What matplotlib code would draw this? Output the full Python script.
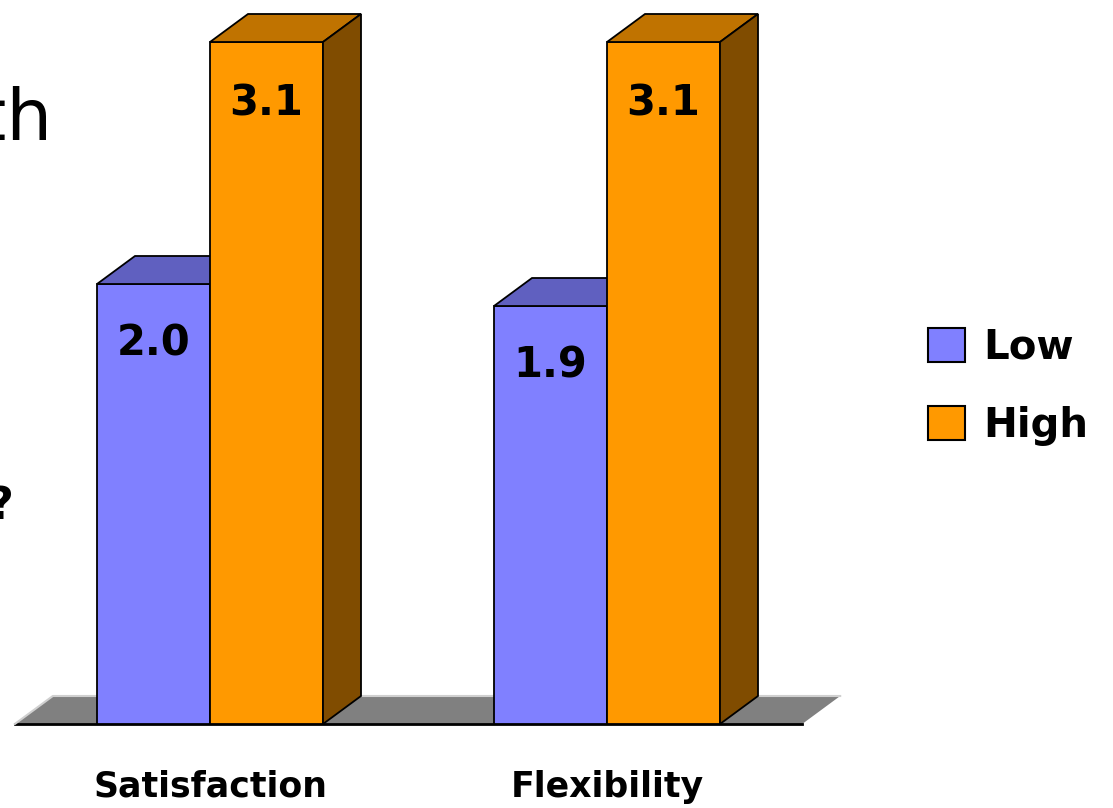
import numpy as np
import matplotlib
matplotlib.use('Agg')
import matplotlib.pyplot as plt
from matplotlib.patches import Polygon, Patch

# data
categories = ['Satisfaction', 'Flexibility']
series = ['Low', 'High']
low = [2.0, 1.9]
high = [3.1, 3.1]

# colours: front, top, side
cols = {
    'Low': ('#8080FF', '#6060C0', '#404080'),
    'High': ('#FF9900', '#C07300', '#804C00'),
}

W, H = 1113, 808
fig = plt.figure(figsize=(W / 100, H / 100), dpi=100)
ax = fig.add_axes([0, 0, 1, 1])
ax.set_xlim(-210 / 397, 903 / 397)
ax.set_ylim(-84 / 220, 724 / 220)
ax.axis('off')

w = 113 / 397      # bar width (group units)
dx = 38 / 397      # depth offset x
dy = 28 / 220      # depth offset y (value units)

def box(x0, x1, v, c):
    front, top, side = c
    ax.add_patch(Polygon([(x0, 0), (x1, 0), (x1, v), (x0, v)], closed=True,
                         fc=front, ec='black', lw=1.3, zorder=3))
    ax.add_patch(Polygon([(x0, v), (x1, v), (x1 + dx, v + dy), (x0 + dx, v + dy)],
                         closed=True, fc=top, ec='black', lw=1.3, zorder=3))
    ax.add_patch(Polygon([(x1, 0), (x1 + dx, dy), (x1 + dx, v + dy), (x1, v)],
                         closed=True, fc=side, ec='black', lw=1.3, zorder=3))

# floor
fl, fr = -w - 0.207, 1 + w + 0.207
ax.add_patch(Polygon([(fl, 0), (fr, 0), (fr + dx, dy), (fl + dx, dy)], closed=True,
                     fc='#808080', ec='none', zorder=1))
ax.plot([fl, fr], [0, 0], color='black', lw=2, zorder=2)
ax.plot([fl, fl + dx, fr + dx], [0, dy, dy], color='#d0d0d0', lw=1.5, zorder=2)

for i, cat in enumerate(categories):
    box(i - w, i, low[i], cols['Low'])
    box(i, i + w, high[i], cols['High'])
    ax.text(i - w / 2, low[i] - 0.27, '%.1f' % low[i], ha='center', va='center',
            fontsize=30, fontweight='bold', zorder=5)
    ax.text(i + w / 2, high[i] - 0.28, '%.1f' % high[i], ha='center', va='center',
            fontsize=30, fontweight='bold', zorder=5)
    ax.text(i, -0.286, cat, ha='center', va='center', fontsize=25,
            fontweight='bold')

handles = [Patch(fc=cols[s][0], ec='black', lw=1.5) for s in series]
leg = ax.legend(handles, series, loc='center left', frameon=False,
                bbox_to_anchor=(928 / W, 1 - 387 / H), bbox_transform=fig.transFigure,
                prop={'size': 29, 'weight': 'bold'}, handlelength=0.92,
                handleheight=0.92, handletextpad=0.45, labelspacing=0.95,
                borderpad=0, borderaxespad=0)

# cut-off slide text at left edge (as in the reference)
fig.text(52 / W, 1 - 140 / H, 'th', ha='right', va='baseline', fontsize=52)
fig.text(14 / W, 1 - 519 / H, '?', ha='right', va='baseline', fontsize=32,
         fontweight='bold')

fig.savefig('out.png', dpi=100)
